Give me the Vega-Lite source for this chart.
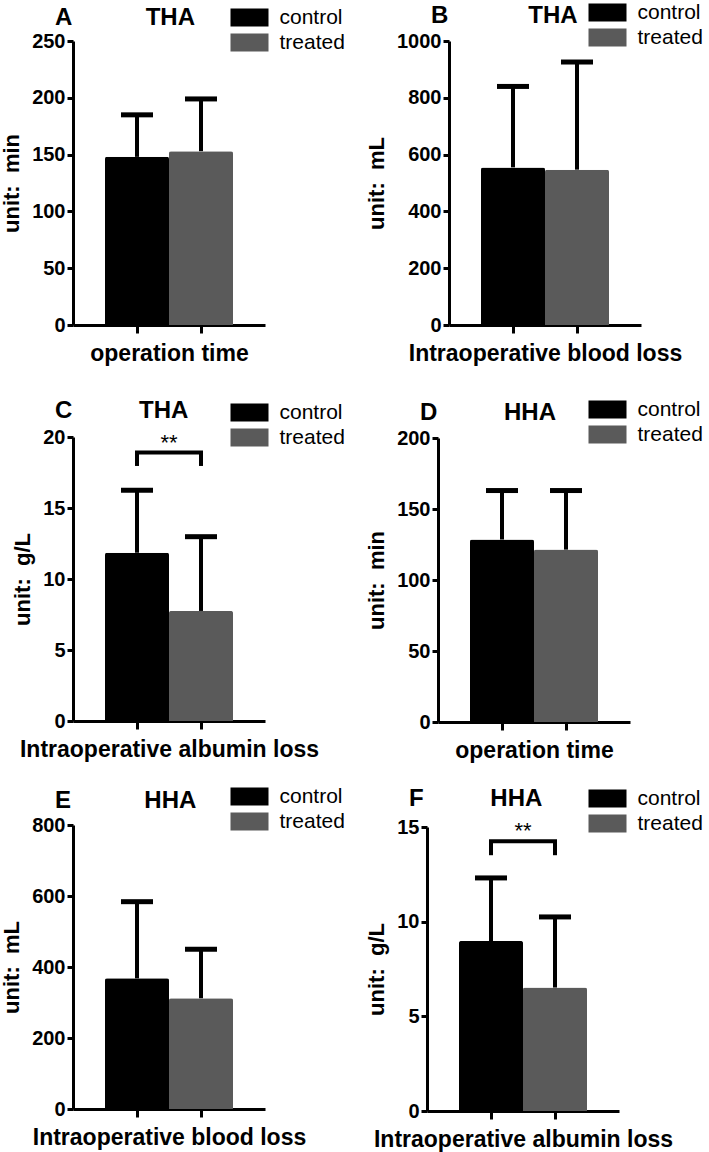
{
  "$schema": "https://vega.github.io/schema/vega-lite/v6.json",
  "background": "white",
  "padding": {"left": 0, "top": 2, "right": 0, "bottom": 0},
  "datasets": {
    "bars": [
      {"p": "A", "group": "control", "mean": 148, "upper": 185},
      {"p": "A", "group": "treated", "mean": 153, "upper": 199},
      {"p": "B", "group": "control", "mean": 555, "upper": 840},
      {"p": "B", "group": "treated", "mean": 547, "upper": 926},
      {"p": "C", "group": "control", "mean": 11.85, "upper": 16.25},
      {"p": "C", "group": "treated", "mean": 7.75, "upper": 12.98},
      {"p": "D", "group": "control", "mean": 128.5, "upper": 163},
      {"p": "D", "group": "treated", "mean": 121.4, "upper": 163},
      {"p": "E", "group": "control", "mean": 368, "upper": 584},
      {"p": "E", "group": "treated", "mean": 312, "upper": 450},
      {"p": "F", "group": "control", "mean": 8.98, "upper": 12.31},
      {"p": "F", "group": "treated", "mean": 6.52, "upper": 10.25}
    ],
    "brackets": [
      {"p": "C", "from": "control", "to": "treated", "top": 18.9, "foot": 17.96, "label": "**"},
      {"p": "F", "from": "control", "to": "treated", "top": 14.25, "foot": 13.51, "label": "**"}
    ]
  },
  "resolve": {"scale": {"color": "independent"}, "legend": {"color": "independent"}},
  "columns": 2,
  "align": "none",
  "spacing": {"row": 24, "column": 20},
  "concat": [
    {
      "width": 192, "height": 284,
      "title": {"text": "A\u00a0\u00a0\u00a0\u00a0\u00a0\u00a0\u00a0\u00a0\u00a0\u00a0\u00a0THA", "offset": -23},
      "data": {"name": "bars"},
      "transform": [{"filter": "datum.p === 'A'"}],
      "layer": [
        {"mark": {"type": "bar", "cornerRadiusTopLeft": 2, "cornerRadiusTopRight": 2},
         "encoding": {
           "x": {"field": "group", "type": "nominal", "scale": {"domain": ["control", "treated"], "paddingInner": 0, "paddingOuter": 0.5}, "axis": {"title": ["operation time", ""], "titleLineHeight": 9}},
           "y": {"field": "mean", "type": "quantitative", "scale": {"domain": [0, 250], "nice": false}, "axis": {"values": [0, 50, 100, 150, 200, 250], "format": "d", "title": "unit:\u00a0 min"}},
           "color": {"field": "group", "type": "nominal", "scale": {"domain": ["control", "treated"], "range": ["#000000", "#5a5a5a"]}, "legend": {"title": null, "orient": "none", "legendX": 166, "legendY": -34}}
         }},
        {"mark": {"type": "rule", "strokeWidth": 4, "color": "#000000"},
         "encoding": {"x": {"field": "group", "type": "nominal"}, "y": {"field": "mean", "type": "quantitative"}, "y2": {"field": "upper"}}},
        {"mark": {"type": "tick", "thickness": 5, "size": 32, "orient": "horizontal", "color": "#000000", "opacity": 1},
         "encoding": {"x": {"field": "group", "type": "nominal"}, "y": {"field": "upper", "type": "quantitative"}}}
      ]
    },
    {
      "width": 192, "height": 284,
      "title": {"text": "B\u00a0\u00a0\u00a0\u00a0\u00a0\u00a0\u00a0\u00a0\u00a0\u00a0\u00a0\u00a0THA", "offset": -26},
      "data": {"name": "bars"},
      "transform": [{"filter": "datum.p === 'B'"}],
      "layer": [
        {"mark": {"type": "bar", "cornerRadiusTopLeft": 2, "cornerRadiusTopRight": 2},
         "encoding": {
           "x": {"field": "group", "type": "nominal", "scale": {"domain": ["control", "treated"], "paddingInner": 0, "paddingOuter": 0.5}, "axis": {"title": ["Intraoperative blood loss", ""], "titleLineHeight": 9}},
           "y": {"field": "mean", "type": "quantitative", "scale": {"domain": [0, 1000], "nice": false}, "axis": {"values": [0, 200, 400, 600, 800, 1000], "format": "d", "title": "unit:\u00a0 mL"}},
           "color": {"field": "group", "type": "nominal", "scale": {"domain": ["control", "treated"], "range": ["#000000", "#5a5a5a"]}, "legend": {"title": null, "orient": "none", "legendX": 148, "legendY": -39}}
         }},
        {"mark": {"type": "rule", "strokeWidth": 4, "color": "#000000"},
         "encoding": {"x": {"field": "group", "type": "nominal"}, "y": {"field": "mean", "type": "quantitative"}, "y2": {"field": "upper"}}},
        {"mark": {"type": "tick", "thickness": 5, "size": 32, "orient": "horizontal", "color": "#000000", "opacity": 1},
         "encoding": {"x": {"field": "group", "type": "nominal"}, "y": {"field": "upper", "type": "quantitative"}}}
      ]
    },
    {
      "width": 192, "height": 284,
      "title": {"text": "C\u00a0\u00a0\u00a0\u00a0\u00a0\u00a0\u00a0\u00a0\u00a0\u00a0THA", "offset": -21},
      "data": {"name": "bars"},
      "transform": [{"filter": "datum.p === 'C'"}],
      "layer": [
        {"mark": {"type": "bar", "cornerRadiusTopLeft": 2, "cornerRadiusTopRight": 2},
         "encoding": {
           "x": {"field": "group", "type": "nominal", "scale": {"domain": ["control", "treated"], "paddingInner": 0, "paddingOuter": 0.5}, "axis": {"title": "Intraoperative albumin loss"}},
           "y": {"field": "mean", "type": "quantitative", "scale": {"domain": [0, 20], "nice": false}, "axis": {"values": [0, 5, 10, 15, 20], "format": "d", "title": "unit:\u00a0 g/L"}},
           "color": {"field": "group", "type": "nominal", "scale": {"domain": ["control", "treated"], "range": ["#000000", "#5a5a5a"]}, "legend": {"title": null, "orient": "none", "legendX": 166, "legendY": -35}}
         }},
        {"mark": {"type": "rule", "strokeWidth": 4, "color": "#000000"},
         "encoding": {"x": {"field": "group", "type": "nominal"}, "y": {"field": "mean", "type": "quantitative"}, "y2": {"field": "upper"}}},
        {"mark": {"type": "tick", "thickness": 5, "size": 32, "orient": "horizontal", "color": "#000000", "opacity": 1},
         "encoding": {"x": {"field": "group", "type": "nominal"}, "y": {"field": "upper", "type": "quantitative"}}},
        {"data": {"name": "brackets"}, "transform": [{"filter": "datum.p === 'C'"}],
         "layer": [
           {"mark": {"type": "rule", "strokeWidth": 4, "color": "#000000", "strokeCap": "square"},
            "encoding": {"x": {"field": "from", "type": "nominal"}, "x2": {"field": "to"}, "y": {"field": "top", "type": "quantitative"}}},
           {"mark": {"type": "rule", "strokeWidth": 4, "color": "#000000"},
            "encoding": {"x": {"field": "from", "type": "nominal"}, "y": {"field": "foot", "type": "quantitative"}, "y2": {"field": "top"}}},
           {"mark": {"type": "rule", "strokeWidth": 4, "color": "#000000"},
            "encoding": {"x": {"field": "to", "type": "nominal"}, "y": {"field": "foot", "type": "quantitative"}, "y2": {"field": "top"}}},
           {"mark": {"type": "text", "fontSize": 22, "baseline": "alphabetic", "dy": -3, "color": "#000000"},
            "encoding": {"x": {"field": "from", "type": "nominal", "bandPosition": 1}, "y": {"field": "top", "type": "quantitative"}, "text": {"field": "label"}}}
         ]}
      ]
    },
    {
      "width": 192, "height": 284,
      "title": {"text": "D\u00a0\u00a0\u00a0\u00a0\u00a0\u00a0\u00a0\u00a0\u00a0\u00a0HHA", "offset": -26},
      "data": {"name": "bars"},
      "transform": [{"filter": "datum.p === 'D'"}],
      "layer": [
        {"mark": {"type": "bar", "cornerRadiusTopLeft": 2, "cornerRadiusTopRight": 2},
         "encoding": {
           "x": {"field": "group", "type": "nominal", "scale": {"domain": ["control", "treated"], "paddingInner": 0, "paddingOuter": 0.5}, "axis": {"title": "operation time"}},
           "y": {"field": "mean", "type": "quantitative", "scale": {"domain": [0, 200], "nice": false}, "axis": {"values": [0, 50, 100, 150, 200], "format": "d", "title": "unit:\u00a0 min"}},
           "color": {"field": "group", "type": "nominal", "scale": {"domain": ["control", "treated"], "range": ["#000000", "#5a5a5a"]}, "legend": {"title": null, "orient": "none", "legendX": 159, "legendY": -39}}
         }},
        {"mark": {"type": "rule", "strokeWidth": 4, "color": "#000000"},
         "encoding": {"x": {"field": "group", "type": "nominal"}, "y": {"field": "mean", "type": "quantitative"}, "y2": {"field": "upper"}}},
        {"mark": {"type": "tick", "thickness": 5, "size": 32, "orient": "horizontal", "color": "#000000", "opacity": 1},
         "encoding": {"x": {"field": "group", "type": "nominal"}, "y": {"field": "upper", "type": "quantitative"}}}
      ]
    },
    {
      "width": 192, "height": 284,
      "title": {"text": "E\u00a0\u00a0\u00a0\u00a0\u00a0\u00a0\u00a0\u00a0\u00a0\u00a0\u00a0HHA", "offset": -27},
      "data": {"name": "bars"},
      "transform": [{"filter": "datum.p === 'E'"}],
      "layer": [
        {"mark": {"type": "bar", "cornerRadiusTopLeft": 2, "cornerRadiusTopRight": 2},
         "encoding": {
           "x": {"field": "group", "type": "nominal", "scale": {"domain": ["control", "treated"], "paddingInner": 0, "paddingOuter": 0.5}, "axis": {"title": "Intraoperative blood loss"}},
           "y": {"field": "mean", "type": "quantitative", "scale": {"domain": [0, 800], "nice": false}, "axis": {"values": [0, 200, 400, 600, 800], "format": "d", "title": "unit:\u00a0 mL"}},
           "color": {"field": "group", "type": "nominal", "scale": {"domain": ["control", "treated"], "range": ["#000000", "#5a5a5a"]}, "legend": {"title": null, "orient": "none", "legendX": 166, "legendY": -39}}
         }},
        {"mark": {"type": "rule", "strokeWidth": 4, "color": "#000000"},
         "encoding": {"x": {"field": "group", "type": "nominal"}, "y": {"field": "mean", "type": "quantitative"}, "y2": {"field": "upper"}}},
        {"mark": {"type": "tick", "thickness": 5, "size": 32, "orient": "horizontal", "color": "#000000", "opacity": 1},
         "encoding": {"x": {"field": "group", "type": "nominal"}, "y": {"field": "upper", "type": "quantitative"}}}
      ]
    },
    {
      "width": 192, "height": 284,
      "title": {"text": "F\u00a0\u00a0\u00a0\u00a0\u00a0\u00a0\u00a0\u00a0\u00a0\u00a0HHA", "offset": -23},
      "data": {"name": "bars"},
      "transform": [{"filter": "datum.p === 'F'"}],
      "layer": [
        {"mark": {"type": "bar", "cornerRadiusTopLeft": 2, "cornerRadiusTopRight": 2},
         "encoding": {
           "x": {"field": "group", "type": "nominal", "scale": {"domain": ["control", "treated"], "paddingInner": 0, "paddingOuter": 0.5}, "axis": {"title": "Intraoperative albumin loss"}},
           "y": {"field": "mean", "type": "quantitative", "scale": {"domain": [0, 15], "nice": false}, "axis": {"values": [0, 5, 10, 15], "format": "d", "title": "unit:\u00a0 g/L"}},
           "color": {"field": "group", "type": "nominal", "scale": {"domain": ["control", "treated"], "range": ["#000000", "#5a5a5a"]}, "legend": {"title": null, "orient": "none", "legendX": 170, "legendY": -39}}
         }},
        {"mark": {"type": "rule", "strokeWidth": 4, "color": "#000000"},
         "encoding": {"x": {"field": "group", "type": "nominal"}, "y": {"field": "mean", "type": "quantitative"}, "y2": {"field": "upper"}}},
        {"mark": {"type": "tick", "thickness": 5, "size": 32, "orient": "horizontal", "color": "#000000", "opacity": 1},
         "encoding": {"x": {"field": "group", "type": "nominal"}, "y": {"field": "upper", "type": "quantitative"}}},
        {"data": {"name": "brackets"}, "transform": [{"filter": "datum.p === 'F'"}],
         "layer": [
           {"mark": {"type": "rule", "strokeWidth": 4, "color": "#000000", "strokeCap": "square"},
            "encoding": {"x": {"field": "from", "type": "nominal"}, "x2": {"field": "to"}, "y": {"field": "top", "type": "quantitative"}}},
           {"mark": {"type": "rule", "strokeWidth": 4, "color": "#000000"},
            "encoding": {"x": {"field": "from", "type": "nominal"}, "y": {"field": "foot", "type": "quantitative"}, "y2": {"field": "top"}}},
           {"mark": {"type": "rule", "strokeWidth": 4, "color": "#000000"},
            "encoding": {"x": {"field": "to", "type": "nominal"}, "y": {"field": "foot", "type": "quantitative"}, "y2": {"field": "top"}}},
           {"mark": {"type": "text", "fontSize": 22, "baseline": "alphabetic", "dy": -3, "color": "#000000"},
            "encoding": {"x": {"field": "from", "type": "nominal", "bandPosition": 1}, "y": {"field": "top", "type": "quantitative"}, "text": {"field": "label"}}}
         ]}
      ]
    }
  ],
  "config": {
    "font": "Liberation Sans",
    "view": {"stroke": null},
    "title": {"fontSize": 24, "fontWeight": "bold", "color": "#000000", "anchor": "start", "frame": "group", "dx": -18},
    "axis": {
      "grid": false,
      "labelFont": "Liberation Sans", "labelFontSize": 20, "labelFontWeight": "bold", "labelColor": "#000000", "labelPadding": 2,
      "titleFont": "Liberation Sans", "titleFontSize": 22, "titleFontWeight": "bold", "titleColor": "#000000",
      "domainColor": "#000000", "domainWidth": 3, "tickColor": "#000000", "tickWidth": 3, "tickSize": 6
    },
    "axisY": {"titlePadding": 8, "labelFlush": false},
    "axisX": {"labels": false, "tickSize": 8, "titleFontSize": 23, "titlePadding": 8},
    "legend": {
      "symbolType": "M-2,-0.94H2V0.94H-2Z", "symbolSize": 361, "symbolStrokeWidth": 0, "symbolOpacity": 1,
      "labelFont": "Liberation Sans", "labelFontSize": 21, "labelColor": "#000000", "labelOffset": 19.5,
      "padding": 0, "rowPadding": 3
    }
  }
}
